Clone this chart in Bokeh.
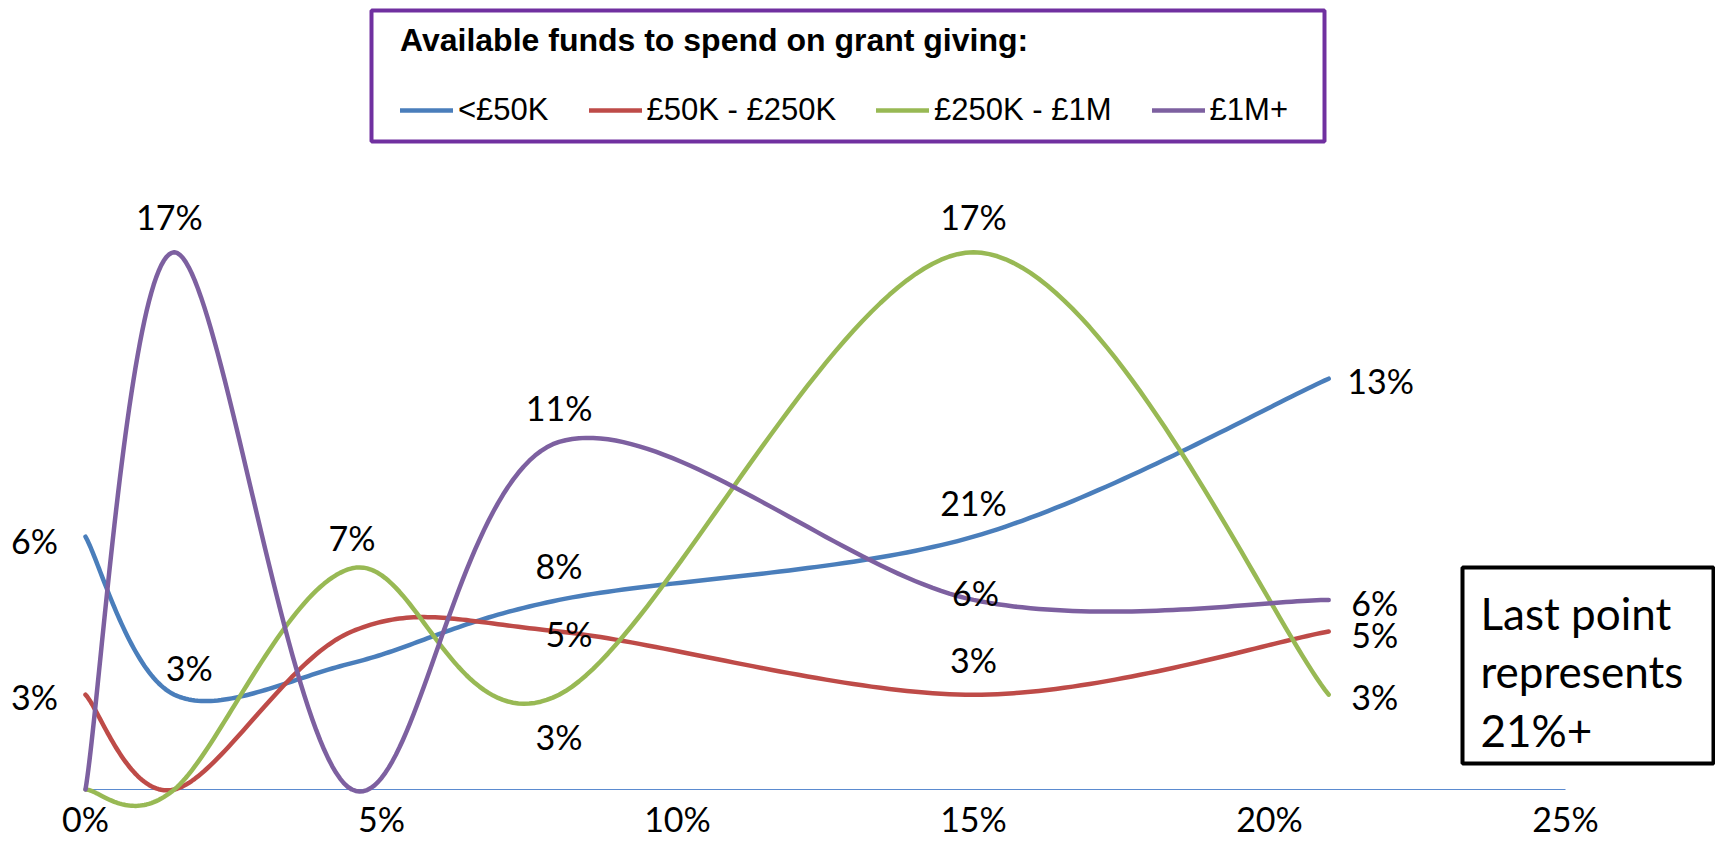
import numpy as np
from bokeh.plotting import figure
from bokeh.models import ColumnDataSource, Range1d, Legend, LegendItem, Label, BoxAnnotation
from bokeh.core.properties import value
from bokeh.embed import file_html
from bokeh.resources import INLINE

# ---------------- data ----------------
share_x = [0, 1.5, 4.5, 8, 15, 21]
series_names = ["<£50K", "£50K - £250K", "£250K - £1M", "£1M+"]
under_50k = [8, 3, 4, 6, 8, 13]
k50_250 = [3, 0, 5, 5, 3, 5]
k250_1m = [0, 0, 7, 3, 17, 3]
over_1m = [0, 17, 0, 11, 6, 6]
under_50k_labels = ["6%", "3%", "", "8%", "21%", "13%"]
k50_250_labels = ["3%", "", "", "5%", "3%", "5%"]
k250_1m_labels = ["", "", "7%", "3%", "17%", "3%"]
over_1m_labels = ["", "17%", "", "11%", "6%", "6%"]
x_ticks = [0, 5, 10, 15, 20, 25]
x_tick_labels = ["0%", "5%", "10%", "15%", "20%", "25%"]
legend_title = "Available funds to spend on grant giving:"
note_text = "Last point\nrepresents\n21%+"

# ---------------- layout / style ----------------
W, H = 1715, 846
OFF = 0          # page offset of the canvas
PX_X = 59.2      # px per x unit
PX_Y = 31.6      # px per y unit
X0 = -(85 - OFF) / PX_X
X1 = X0 + W / PX_X
Y1 = (789 - OFF) / PX_Y
Y0 = Y1 - H / PX_Y

def px2x(px):
    return X0 + (px - OFF) / PX_X

def py2y(py):
    return Y1 - (py - OFF) / PX_Y

colors = ["#4A7EBB", "#BE4B48", "#98B954", "#7D60A0"]
# label offsets (dx, dy) in px, per point
offs = [
    [(-51, 4), (15, -27), (0, 0), (0, -34), (0, -34), (52, 2)],
    [(-51, 2), (0, 0), (0, 0), (10, 2), (0, -35), (46, 3)],
    [(0, 0), (0, 0), (0, -31), (0, 42), (0, -36), (46, 2)],
    [(0, 0), (-5, -36), (0, 0), (0, -34), (2, -7), (46, 3)],
]
LABEL_FONT = "Lato"
LABEL_SIZE = "34px"


def smooth(xs, ys, n=50):
    P = np.column_stack([xs, ys]).astype(float)
    m = len(P)
    out = [P[0]]
    t = np.linspace(0, 1, n)[1:, None]
    for i in range(m - 1):
        p0 = P[i - 1] if i > 0 else P[i]
        p1 = P[i]
        p2 = P[i + 1]
        p3 = P[i + 2] if i + 2 < m else P[i + 1]
        c1 = p1 + (p2 - p0) / 6
        c2 = p2 - (p3 - p1) / 6
        pts = (1 - t) ** 3 * p1 + 3 * (1 - t) ** 2 * t * c1 + 3 * (1 - t) * t ** 2 * c2 + t ** 3 * p2
        out.extend(pts)
    out = np.array(out)
    return out[:, 0], out[:, 1]


p = figure(width=W, height=H, x_range=Range1d(X0, X1), y_range=Range1d(Y0, Y1),
           output_backend="svg", toolbar_location=None, min_border=0,
           x_axis_location=None, y_axis_location=None)
p.grid.visible = False
p.outline_line_color = None
p.background_fill_color = "white"
p.border_fill_color = "white"

# baseline axis line
p.line(x=[x_ticks[0], x_ticks[-1]], y=[0, 0], line_color="#5B8BD0", line_width=1)

all_y = [under_50k, k50_250, k250_1m, over_1m]
all_lab = [under_50k_labels, k50_250_labels, k250_1m_labels, over_1m_labels]
renderers = []
for ys, c in zip(all_y, colors):
    sx, sy = smooth(share_x, ys)
    r = p.line(sx, sy, line_color=c, line_width=4.5, line_cap="round", line_join="round")
    renderers.append(r)

# data labels
lx, ly, lt, ldx, ldy = [], [], [], [], []
for ys, labs, off in zip(all_y, all_lab, offs):
    for xv, yv, tx, (dx, dy) in zip(share_x, ys, labs, off):
        if tx:
            lx.append(xv); ly.append(yv); lt.append(tx); ldx.append(dx); ldy.append(dy)
lsrc = ColumnDataSource(dict(x=lx, y=ly, text=lt, dx=ldx, dy=ldy))
p.text(x="x", y="y", text="text", x_offset="dx", y_offset="dy", source=lsrc,
       text_font=value(LABEL_FONT), text_font_size=LABEL_SIZE, text_color="black",
       text_align="center", text_baseline="middle")

# tick labels
p.text(x=x_ticks, y=[0] * len(x_ticks), text=x_tick_labels, y_offset=29,
       text_font=value(LABEL_FONT), text_font_size=LABEL_SIZE, text_color="black",
       text_align="center", text_baseline="middle")

# legend
legend = Legend(items=[LegendItem(label=n, renderers=[r]) for n, r in zip(series_names, renderers)],
                title=legend_title, orientation="horizontal",
                location=(400 - OFF, H - (128 - OFF)),
                padding=0, margin=0, spacing=40, glyph_width=53, glyph_height=20,
                label_standoff=5, label_text_font="Liberation Sans", label_text_font_size="31px",
                label_text_color="black",
                title_text_font="Liberation Sans", title_text_font_size="32px",
                title_text_font_style="bold", title_text_color="black", title_standoff=33,
                border_line_alpha=0, background_fill_alpha=0)
p.add_layout(legend)

legend_box = BoxAnnotation(left=px2x(371), right=px2x(1324), top=py2y(10), bottom=py2y(141),
                           fill_alpha=0, line_color="#7030A0", line_alpha=1, line_width=4)
p.add_layout(legend_box)

# note box
note_box = BoxAnnotation(left=px2x(1462), right=px2x(1713), top=py2y(567), bottom=py2y(763),
                         fill_color="white", fill_alpha=1, line_color="black", line_alpha=1,
                         line_width=4)
p.add_layout(note_box)
note = Label(x=px2x(1480), y=py2y(586), text=note_text, text_font=LABEL_FONT,
             text_font_size="44px", text_color="black", text_align="left",
             text_baseline="top", text_line_height=1.13)
p.add_layout(note)

open("out.html", "w").write(file_html(p, INLINE))
